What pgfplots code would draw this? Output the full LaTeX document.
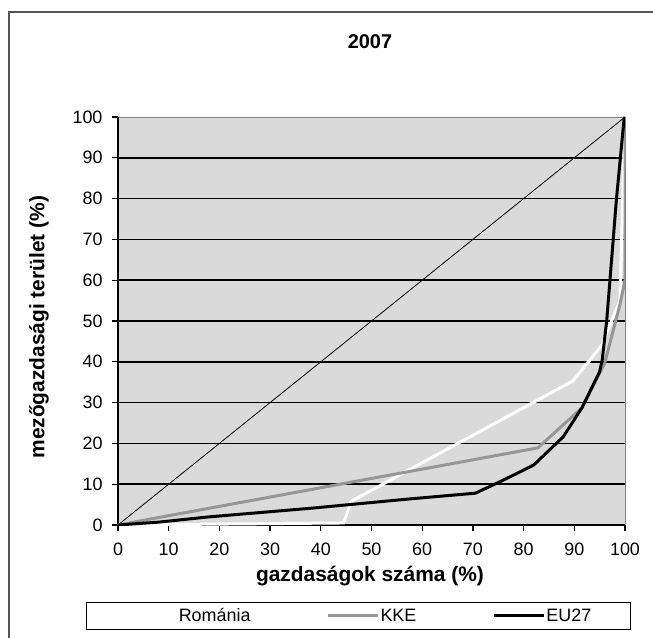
\documentclass[border=0pt]{standalone}
\usepackage{fontspec}
\setmainfont{Liberation Sans}
\usepackage{pgfplots}
\pgfplotsset{compat=1.18}
\definecolor{plotbg}{HTML}{DADADA}
\definecolor{kke}{HTML}{969696}
\definecolor{framegray}{HTML}{555555}

\begin{document}
\begin{tikzpicture}
\useasboundingbox (-118bp,-113bp) rectangle (535bp,525bp);
\begin{axis}[
  at={(0,0)}, anchor=south west,
  scale only axis,
  width=507bp, height=408bp,
  xmin=0, xmax=100, ymin=0, ymax=100,
  xtick={0,10,...,100}, ytick={0,10,...,100},
  axis lines*=left,
  axis line style={black, line width=1.5bp},
  axis background/.style={fill=plotbg, draw=gray, line width=0.8bp},
  tick align=outside,
  major tick length=6bp,
  tick style={black, line width=1.2bp},
  extra y ticks={10,20,...,90},
  extra y tick labels={},
  extra y tick style={grid=major, major grid style={black, line width=1.6bp}},
  /pgf/number format/assume math mode=true,
  tick label style={font=\fontsize{18}{20}\selectfont},
  yticklabel style={xshift=-6bp},
  xticklabel style={yshift=-8bp},
  title={\bfseries 2007},
  title style={at={(axis description cs:0.497,1.17)}, anchor=center, font=\fontsize{20}{22}\selectfont},
  xlabel={\bfseries gazdaságok száma (\%)},
  xlabel style={at={(axis description cs:0.497,-0.125)}, anchor=center, font=\fontsize{21}{23}\selectfont},
  ylabel={\bfseries mezőgazdasági terület (\%)},
  ylabel style={at={(axis description cs:-0.1558,0.485)}, anchor=center, font=\fontsize{21}{23}\selectfont},
  legend columns=3,
  legend image code/.code={\draw[#1] (0bp,0bp) -- (50bp,0bp);},
  legend style={at={(axis description cs:0.4744,-0.223)}, anchor=center,
    draw=black, line width=1.4bp, fill=white,
    inner xsep=38bp, inner ysep=4bp,
    font=\fontsize{18}{20}\selectfont,
    nodes={inner xsep=1bp},
    /tikz/every even column/.append style={column sep=75bp}},
]
\addplot[black, line width=0.8bp, forget plot] coordinates {(0,0) (100,100)};
\addplot[white, line width=3bp] coordinates {
  (0,0) (44.5,0.5) (46,5.8) (89.7,35.3) (95.4,44) (99,55) (100,100)};
\addlegendentry{Románia}
\addplot[kke, line width=3bp] coordinates {
  (0,0) (82.8,18.9) (91.5,28.7) (96,39.7) (99,54) (100,60) (100,100)};
\addlegendentry{KKE}
\addplot[black, line width=3bp] coordinates {
  (0,0) (8,0.7) (18,2) (38,4.1) (57.6,6.4) (70.5,7.8) (76,11) (82,14.7)
  (87.8,21.6) (91.5,28.7) (95,37.6) (95.5,40.4) (96.4,50.2) (98.3,79.7)
  (99.8,99.3) (100,100)};
\addlegendentry{EU27}
\end{axis}
\draw[framegray, line width=2bp] (-109bp,-140bp) rectangle (545bp,513bp);
\end{tikzpicture}
\end{document}
